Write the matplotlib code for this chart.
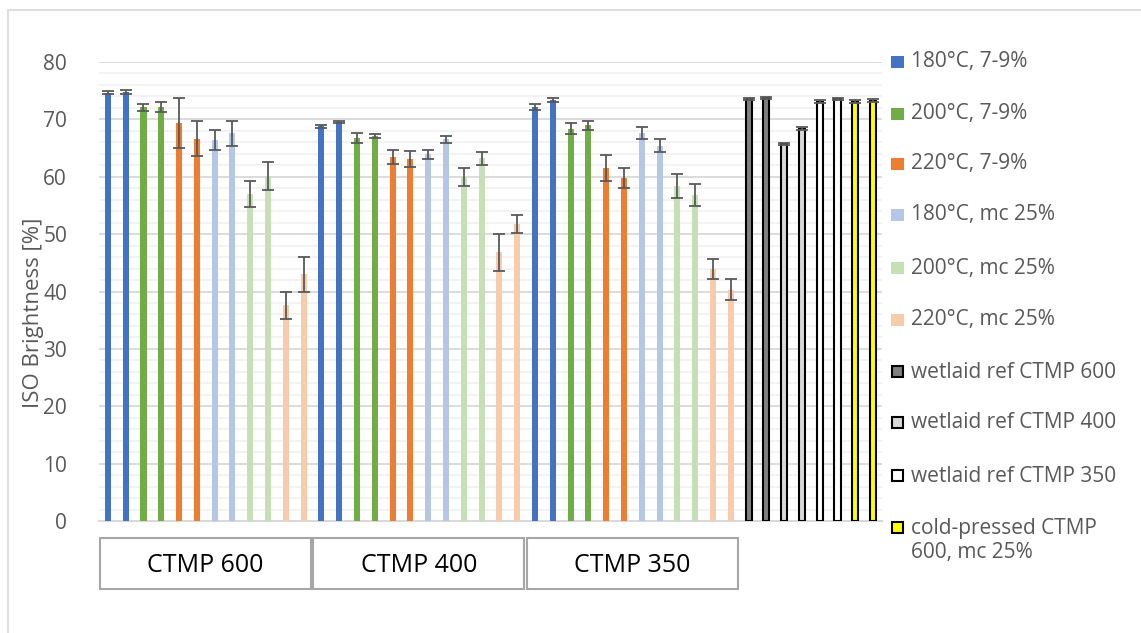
import numpy as np
import matplotlib
matplotlib.use("Agg")
import matplotlib.pyplot as plt
import matplotlib.patches as mpatches
import matplotlib.transforms as mtransforms

plt.rcParams['font.family'] = ['Open Sans', 'DejaVu Sans']

groups = ['CTMP 600', 'CTMP 400', 'CTMP 350']
series = ['180°C, 7-9%', '200°C, 7-9%', '220°C, 7-9%',
          '180°C, mc 25%', '200°C, mc 25%', '220°C, mc 25%']
series_colors = ['#4472c4', '#70ad47', '#ed7d31', '#b4c7e7', '#c5e0b4', '#f8cbad']

# two replicates per condition, 6 conditions per pulp
ctmp600 = [74.65, 74.8, 72.1, 72.1, 69.4, 66.6, 66.4, 67.6, 57.0, 60.1, 37.6, 43.0]
err600 = [0.3, 0.4, 0.6, 0.85, 4.4, 3.05, 1.7, 2.2, 2.25, 2.4, 2.35, 3.1]
ctmp400 = [68.8, 69.6, 66.75, 67.1, 63.4, 63.1, 63.9, 66.5, 60.0, 63.2, 46.8, 51.75]
err400 = [0.3, 0.2, 0.9, 0.4, 1.2, 1.4, 0.8, 0.6, 1.55, 1.1, 3.2, 1.6]
ctmp350 = [72.1, 73.4, 68.4, 68.95, 61.5, 59.8, 67.6, 65.4, 58.4, 56.8, 43.9, 40.3]
err350 = [0.5, 0.35, 1.0, 0.8, 2.3, 1.75, 1.1, 1.15, 2.1, 1.9, 1.75, 1.8]

ref_names = ['wetlaid ref CTMP 600', 'wetlaid ref CTMP 400',
             'wetlaid ref CTMP 350', 'cold-pressed CTMP\n600, mc 25%']
ref_colors = ['#808080', '#d9d9d9', '#ffffff', '#ffff00']
refs = [73.5, 73.7, 65.7, 68.4, 73.1, 73.6, 73.1, 73.25]
ref_err = [0.2, 0.2, 0.2, 0.2, 0.2, 0.2, 0.3, 0.3]

W, H = 1141, 633
fig = plt.figure(figsize=(W / 100, H / 100), dpi=100)
ax = fig.add_axes([99 / W, 1 - 521 / H, (882 - 99) / W, (521 - 62) / H])

bw = 0.34
ekw = dict(ecolor='#595959', elinewidth=1.3, capsize=4.5, capthick=1.3)
x = 0
for vals, errs in [(ctmp600, err600), (ctmp400, err400), (ctmp350, err350)]:
    cols = [c for c in series_colors for _ in range(2)]
    xs = np.arange(x, x + 12)
    ax.bar(xs, vals, width=bw, color=cols, yerr=errs, error_kw=ekw, zorder=3)
    x += 12

xs = np.arange(x, x + 8)
cols = [c for c in ref_colors for _ in range(2)]
ax.bar(xs, refs, width=bw, color=cols, edgecolor='black', linewidth=1.5,
       yerr=ref_err, error_kw=ekw, zorder=3)

ax.set_xlim(-0.5, 43.5)
ax.set_ylim(0, 80)
ax.set_yticks(np.arange(0, 81, 10))
ax.set_yticks(np.arange(0, 81, 2), minor=True)
ax.grid(axis='y', which='major', color='#d9d9d9', linewidth=1.3, zorder=0)
ax.grid(axis='y', which='minor', color='#f2f2f2', linewidth=1.3, zorder=0)
ax.set_xticks([])
for s in ['top', 'right', 'left']:
    ax.spines[s].set_visible(False)
ax.spines['bottom'].set_color('#d9d9d9')
ax.spines['bottom'].set_linewidth(1.5)
ax.tick_params(axis='y', which='both', length=0, labelsize=15, colors='#595959', pad=23)

fig.text(34 / W, 1 - 313 / H, 'ISO Brightness [%]', rotation=90, ha='center', va='center',
         fontsize=16, color='#595959')

# category boxes under the three pulp groups
tr = mtransforms.blended_transform_factory(ax.transData, fig.transFigure)
for i, g in enumerate(groups):
    x0 = i * 12 - 0.5 + 0.03
    x1 = i * 12 + 11.5 - 0.1
    box = mpatches.Rectangle((x0, 1 - 589 / H), x1 - x0, 51 / H, transform=tr,
                             facecolor='white', edgecolor='#a6a6a6', linewidth=1.5,
                             clip_on=False)
    ax.add_patch(box)
    ax.text((x0 + x1) / 2, 1 - 566 / H, g, transform=tr, ha='center', va='center',
            fontsize=18, color='black')

# legend
names = series + ref_names
fills = series_colors + ref_colors
edges = [None] * 6 + ['black'] * 4
ys = [62, 114, 164, 215, 268, 320, 372, 423, 476, 528]
for name, fc, ec, yp in zip(names, fills, edges, ys):
    yy = 1 - (yp + 6) / H
    if ec is None:
        r = mpatches.Rectangle((891 / W, yy), 13 / W, 12 / H, transform=fig.transFigure,
                               facecolor=fc, edgecolor='none')
    else:
        r = mpatches.Rectangle((892 / W, yy + 1 / H), 11 / W, 11 / H, transform=fig.transFigure,
                               facecolor=fc, edgecolor=ec, linewidth=1.5)
    fig.patches.append(r)
    if '\n' in name:
        fig.text(911 / W, 1 - (yp - 10) / H, name, ha='left', va='top',
                 fontsize=15, color='#595959', linespacing=1.2)
    else:
        fig.text(911 / W, 1 - yp / H, name, ha='left', va='center',
                 fontsize=15, color='#595959')

# outer frame
frame = mpatches.Rectangle((8 / W, -0.1), 1.2, 1 - 10 / H + 0.1, transform=fig.transFigure,
                           facecolor='none', edgecolor='#d9d9d9', linewidth=1.2)
fig.patches.append(frame)

fig.savefig('out.png', dpi=100)
